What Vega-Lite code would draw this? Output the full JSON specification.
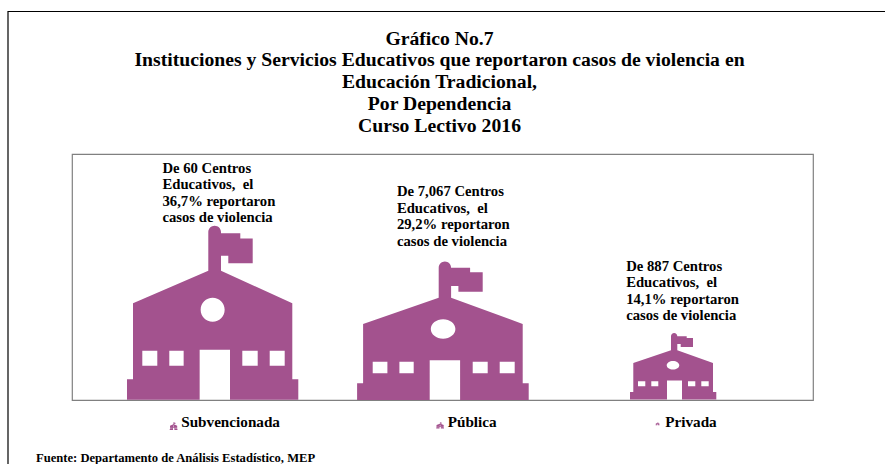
{
"$schema":"https://vega.github.io/schema/vega-lite/v6.json",
"autosize":"none",
"width":741,"height":246,
"padding":{"left":72,"top":154,"right":72,"bottom":64},
"background":"white",
"config":{"view":{"stroke":"#808080","strokeWidth":1.2},"text":{"font":"Liberation Serif"}},
"title":{"text":["Gráfico No.7","Instituciones y Servicios Educativos que reportaron casos de violencia en","Educación Tradicional,","Por Dependencia","Curso Lectivo 2016"],"font":"Liberation Serif","fontSize":19.7,"fontWeight":"bold","color":"#000000","lineHeight":21.8,"anchor":"middle","frame":"group","baseline":"top","dx":-3,"offset":-124.5},
"data":{"values":[
{"dependencia":"Subvencionada","centros":60,"porcentaje":36.7,"nota":"De 60 Centros\nEducativos, \u00a0el\n36,7% reportaron\ncasos de violencia"},
{"dependencia":"Pública","centros":7067,"porcentaje":29.2,"nota":"De 7,067 Centros\nEducativos, \u00a0el\n29,2% reportaron\ncasos de violencia"},
{"dependencia":"Privada","centros":887,"porcentaje":14.1,"nota":"De 887 Centros\nEducativos, \u00a0el\n14,1% reportaron\ncasos de violencia"}
]},
"encoding":{
"x":{"field":"dependencia","type":"nominal","sort":null,"scale":{"type":"point","padding":0,"range":[140.65,601.15]},
"axis":{"labels":false,"ticks":false,"domain":false,"grid":false,"title":"Fuente: Departamento de Análisis Estadístico, MEP","titleFont":"Liberation Serif","titleFontSize":12.6,"titleFontWeight":"bold","titleColor":"#000000","titleAlign":"left","titleAnchor":"start","titleBaseline":"alphabetic","titleX":-36.5,"titleY":61}},
"y":{"field":"porcentaje","type":"quantitative","scale":{"domain":[0,51.84],"nice":false,"zero":true},"axis":null}
},
"layer":[
{"data":{"values":[{"marco":1}]},
 "mark":{"type":"rect","fill":null,"stroke":"#000000","strokeWidth":1.2,"clip":false},
 "encoding":{"x":{"value":-64},"x2":{"value":830},"y":{"value":-142.5},"y2":{"value":330}}},
{"mark":{"type":"point","filled":true,"fill":"#A3528E","opacity":1,"stroke":null,"size":4},
 "encoding":{"shape":{"field":"dependencia","type":"nominal",
  "scale":{"domain":["Subvencionada","Pública","Privada"],"range":[
  "M-4.35 6.3A6.35 6.35 0 0 1 8.35 6.3L8.35 7.3L27.65 7.3L27.65 12.7L40.05 12.7L40.05 37.3L15.65 37.3L15.65 30L8.35 30L8.35 45L79.65 77.3L79.65 153.3L85.65 153.3L85.65 174L-85.65 174L-85.65 153.3L-79.65 153.3L-79.65 77.3L-4.35 45Z M-12 84A12 12 0 1 0 12 84A12 12 0 1 0 -12 84Z M-70.35 125L-70.35 140L-55.35 140L-55.35 125Z M-43.35 125L-43.35 140L-29 140L-29 125Z M29.65 125L29.65 140L45.05 140L45.05 125Z M57.05 125L57.05 140L72.05 140L72.05 125Z M-13 124L-13 174L17.35 174L17.35 124Z",
  "M-4.2 6.2A6.2 6.2 0 0 1 8.2 6.2L27.2 6.2L27.2 10.8L39.8 10.8L39.8 30.2L15.5 30.2L15.5 24.5L8.2 24.5L8.2 36.2L79.8 62.5L79.8 121.8L85.8 121.8L85.8 138.5L-85.8 138.5L-85.8 121.8L-79.8 121.8L-79.8 62.5L-4.2 36.2Z M-12.1 67.5A12.3 9.7 0 1 0 12.5 67.5A12.3 9.7 0 1 0 -12.1 67.5Z M-70.2 100.2L-70.2 111.8L-55.5 111.8L-55.5 100.2Z M-43.5 100.2L-43.5 111.8L-29.2 111.8L-29.2 100.2Z M29.8 100.2L29.8 111.8L44.8 111.8L44.8 100.2Z M56.8 100.2L56.8 111.8L71.8 111.8L71.8 100.2Z M-13.2 98.8L-13.2 138.5L17.2 138.5L17.2 98.8Z",
  "M-2.15 3.15A3.15 3.15 0 0 1 4.15 3.15L13.55 3.15L13.55 4.8L19.85 4.8L19.85 13.8L7.55 13.8L7.55 10.8L4.15 10.8L4.15 17.2L39.85 29.8L39.85 58.8L43.15 58.8L43.15 66.5L-43.15 66.5L-43.15 58.8L-39.85 58.8L-39.85 29.8L-2.15 17.2Z M-6.45 32.2A6.3 4.3 0 1 0 6.15 32.2A6.3 4.3 0 1 0 -6.45 32.2Z M-35.15 48.2L-35.15 53.2L-27.85 53.2L-27.85 48.2Z M-21.85 48.2L-21.85 53.2L-14.85 53.2L-14.85 48.2Z M14.85 48.2L14.85 53.2L22.15 53.2L22.15 48.2Z M28.15 48.2L28.15 53.2L35.55 53.2L35.55 48.2Z M-6.15 47.5L-6.15 66.5L8.85 66.5L8.85 47.5Z"
  ]},
  "legend":{"title":null,"orient":"none","legendX":94,"legendY":260.5,"direction":"horizontal","columns":3,"columnPadding":152.5,"symbolSize":0.0081,"symbolStrokeWidth":0,"labelFont":"Liberation Serif","labelFontSize":15.2,"labelFontWeight":"bold","labelColor":"#000000","labelOffset":0,"labelLimit":200,"encoding":{"labels":{"update":{"dy":{"value":3.5}}}}}}}},
{"transform":[{"filter":"datum.dependencia==='Subvencionada'"}],"mark":{"type":"text","align":"left","baseline":"bottom","lineBreak":"\n","lineHeight":16.4,"fontSize":14.7,"fontWeight":"bold","color":"#000000","dx":-50.2,"dy":-50},"encoding":{"text":{"field":"nota"}}},
{"transform":[{"filter":"datum.dependencia==='Pública'"}],"mark":{"type":"text","align":"left","baseline":"bottom","lineBreak":"\n","lineHeight":16.4,"fontSize":14.7,"fontWeight":"bold","color":"#000000","dx":-46,"dy":-62},"encoding":{"text":{"field":"nota"}}},
{"transform":[{"filter":"datum.dependencia==='Privada'"}],"mark":{"type":"text","align":"left","baseline":"bottom","lineBreak":"\n","lineHeight":16.4,"fontSize":14.7,"fontWeight":"bold","color":"#000000","dx":-47,"dy":-59},"encoding":{"text":{"field":"nota"}}}
]
}
